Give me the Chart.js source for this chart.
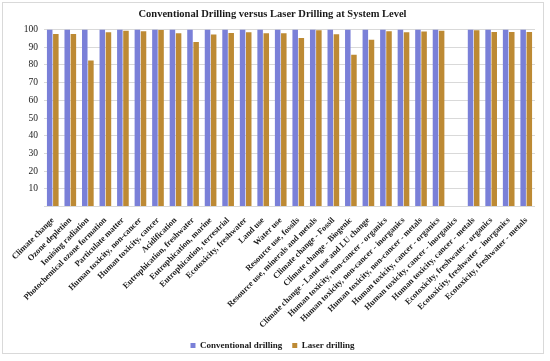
<!DOCTYPE html>
<html lang="en">
<head>
    <meta charset="UTF-8">
    <title>Conventional vs Laser Drilling</title>
    <style>
        body {
            margin: 0;
            background-color: #ffffff;
        }

        /* outer frame like the Excel chart area */
        .frame {
            position: absolute;
            left: 2px;
            top: 2px;
            width: 540px;
            height: 350px;
            border: 1px solid #d9d9d9;
            pointer-events: none;
        }

        .chart-box {
            position: relative;
            width: 550px;
            height: 361px;
        }
    </style>
</head>
<body>
    <div class="chart-box">
        <canvas id="chart" width="550" height="361"></canvas>
    </div>
    <div class="frame"></div>

    <script src="https://cdn.jsdelivr.net/npm/chart.js"></script>
    <script>
        // Impact categories along the x axis
        var categories = [
            'Climate change',
            'Ozone depletion',
            'Ionising radiation',
            'Photochemical ozone formation',
            'Particulate matter',
            'Human toxicity, non-cancer',
            'Human toxicity, cancer',
            'Acidification',
            'Eutrophication, freshwater',
            'Eutrophication, marine',
            'Eutrophication, terrestrial',
            'Ecotoxicity, freshwater',
            'Land use',
            'Water use',
            'Resource use, fossils',
            'Resource use, minerals and metals',
            'Climate change - Fossil',
            'Climate change - Biogenic',
            'Climate change - Land use and LU change',
            'Human toxicity, non-cancer - organics',
            'Human toxicity, non-cancer - inorganics',
            'Human toxicity, non-cancer - metals',
            'Human toxicity, cancer - organics',
            'Human toxicity, cancer - inorganics',
            'Human toxicity, cancer - metals',
            'Ecotoxicity, freshwater - organics',
            'Ecotoxicity, freshwater - inorganics',
            'Ecotoxicity, freshwater - metals'
        ];

        // Relative scores (%)
        var conventional = [
            100, 100, 100, 100, 100, 100, 100, 100, 100, 100,
            100, 100, 100, 100, 100, 100, 100, 100, 100, 100,
            100, 100, 100, null, 100, 100, 100, 100
        ];
        var laser = [
            97.5, 97.5, 82.5, 98.5, 99.4, 99, 99.8, 98, 93, 97.2,
            98.1, 98.5, 98, 98, 95.3, 99.6, 97.3, 85.8, 94.3, 99,
            98.5, 98.9, 99.4, null, 99.6, 98.7, 98.7, 98.7
        ];

        var yTicks = [0, 10, 20, 30, 40, 50, 60, 70, 80, 90, 100];

        var serif = "'Liberation Serif', 'Times New Roman', serif";

        var ctx = document.getElementById('chart').getContext('2d');
        var chart = new Chart(ctx, {
            type: 'bar',
            data: {
                labels: categories,
                datasets: [{
                    label: 'Conventional drilling',
                    data: conventional,
                    backgroundColor: '#7a80d8',
                    categoryPercentage: 0.7,
                    barPercentage: 0.9
                }, {
                    label: 'Laser drilling',
                    data: laser,
                    backgroundColor: '#bd8a34',
                    categoryPercentage: 0.7,
                    barPercentage: 0.9
                }]
            },
            options: {
                responsive: false,
                animation: false,
                layout: {
                    padding: { left: 10, right: 15, top: 5, bottom: 1 }
                },
                plugins: {
                    title: {
                        display: true,
                        text: 'Conventional Drilling versus Laser Drilling at System Level',
                        color: '#1a1a1a',
                        font: { family: serif, size: 10.5, weight: 'bold' },
                        padding: { top: 3, bottom: 9 }
                    },
                    legend: {
                        position: 'bottom',
                        labels: {
                            color: '#1a1a1a',
                            boxWidth: 5,
                            boxHeight: 5,
                            padding: 10,
                            font: { family: serif, size: 9, weight: 'bold' }
                        }
                    },
                    tooltip: { enabled: false }
                },
                scales: {
                    x: {
                        grid: { display: false },
                        border: { display: false },
                        ticks: {
                            color: '#1a1a1a',
                            maxRotation: 45,
                            minRotation: 45,
                            autoSkip: false,
                            padding: 1,
                            font: { family: serif, size: 8.4, weight: 'bold' }
                        }
                    },
                    y: {
                        min: 0,
                        max: 100,
                        afterBuildTicks: function (axis) {
                            axis.ticks = yTicks.map(function (v) { return { value: v }; });
                        },
                        afterFit: function (axis) {
                            axis.width = 34;
                        },
                        grid: { color: '#d9d9d9', drawTicks: false },
                        border: { display: false },
                        ticks: {
                            color: '#1a1a1a',
                            padding: 6,
                            font: { family: serif, size: 9.5 },
                            callback: function (v) { return v === 0 ? '' : v; }
                        }
                    }
                }
            }
        });
    </script>
</body>
</html>
